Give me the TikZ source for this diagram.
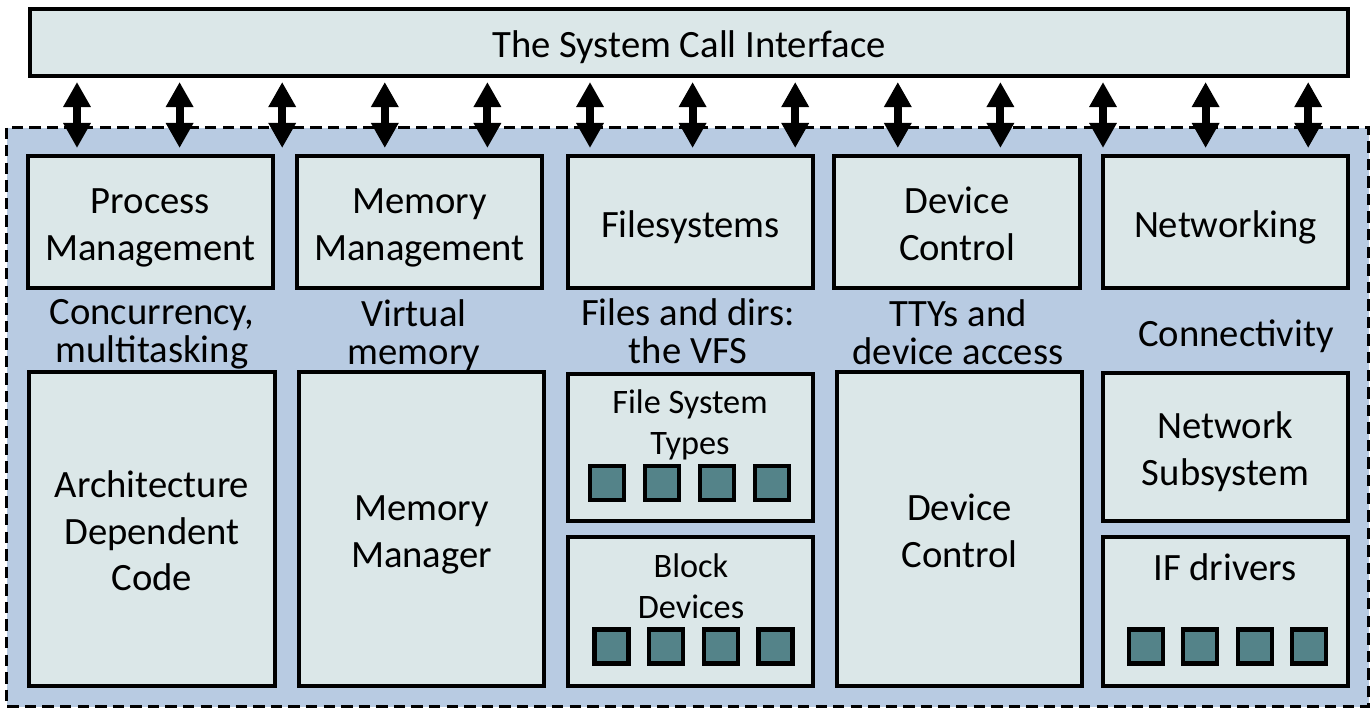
\documentclass[tikz,border=0pt]{standalone}
\usepackage{fontspec}
\setmainfont{Carlito}
\usetikzlibrary{arrows.meta, positioning}

\definecolor{kernelblue}{RGB}{184,203,226}
\definecolor{boxgrey}{RGB}{219,231,232}
\definecolor{slotteal}{RGB}{84,131,137}

\newcommand{\pxu}{0.02cm}
\newcommand{\bigtxt}{\fontsize{22}{26.5}\selectfont}
\newcommand{\smalltxt}{\fontsize{19.5}{23.5}\selectfont}
\newcommand{\lbltxt}{\fontsize{22}{21.5}\selectfont}
% strut for first and last line, keeps box texts at the same height
\newcommand{\fs}{\rule[-0.21em]{0pt}{1.2em}}

\tikzset{
  blk/.style 2 args={draw, line width=2.3pt, fill=boxgrey, minimum width=#1*\pxu,
    minimum height=#2*\pxu, inner sep=0pt, align=center, font=\bigtxt},
  slot/.style={draw, line width=2.3pt, fill=slotteal, minimum size=34*\pxu, inner sep=0pt},
  lbl/.style={align=center, font=\lbltxt},
  kernel/.style={fill=kernelblue, line width=1.7pt, dash pattern=on 6.5pt off 3.5pt},
  dblarr/.style={line width=4.5pt,
    {Triangle[length=0.5cm,width=0.52cm]}-{Triangle[length=0.5cm,width=0.52cm]}},
}

\begin{document}
\begin{tikzpicture}[x=\pxu, y=-\pxu]
  \useasboundingbox (0,0) rectangle (1372,710);

  % kernel area
  \draw[kernel] (6.5,127.5) rectangle (1368.5,706.5);

  \node[blk={1318}{67}] (sci) at (689,42.5) {\fs The System Call Interface};

  % subsystems
  \node[blk={245}{132}] (pm)  at (150.5,222) {\fs Process\\Management\fs};
  \node[blk={245}{132}] (mm)  at (419.5,222) {\fs Memory\\Management\fs};
  \node[blk={245}{132}] (fs)  at (690.5,222) {\fs Filesystems};
  \node[blk={246}{132}] (dc)  at (957,222)   {\fs Device\\Control\fs};
  \node[blk={245}{132}] (net) at (1225.5,222) {\fs Networking};

  \node[lbl] (lblpm)  at (152,334)  {Concurrency,\\multitasking};
  \node[lbl] (lblmm)  at (414,335)  {Virtual\\memory};
  \node[lbl] (lblfs)  at (688,331)  {Files and dirs:\\the VFS};
  \node[lbl] (lbldc)  at (958,332)  {TTYs and\\device access};
  \node[lbl] (lblnet) at (1236,336) {Connectivity};

  % lower layer
  \node[blk={246}{314}] (arch) at (152,529)   {\fs Architecture\\Dependent\\Code\fs};
  \node[blk={245}{314}] (mgr)  at (421.5,529) {\fs Memory\\Manager\fs};
  \node[blk={245}{147}] (fst)  at (690.5,447.5) {};
  \node[blk={245}{149}] (bdev) at (690.5,611.5) {};
  \node[blk={245}{314}] (dcl)  at (959.5,529) {\fs Device\\Control\fs};
  \node[blk={245}{148}] (nsub) at (1225.5,447) {\fs Network\\Subsystem\fs};
  \node[blk={245}{149}] (ifd)  at (1225.5,611.5) {};

  \node[align=center, font=\smalltxt] (fsttxt)  at (690,425)  {File System\\Types};
  \node[align=center, font=\smalltxt] (bdevtxt) at (691,586.5) {Block\\Devices};
  \node[font=\bigtxt] (ifdtxt) at (1225,567) {IF drivers};

  \foreach \sx [count=\i] in {607,662,717,772}
    \node[slot] (fsq\i) at (\sx,483) {};
  \foreach \sx [count=\i] in {611.5,666,721,775.5}
    \node[slot] (bsq\i) at (\sx,646.5) {};
  \foreach \sx [count=\i] in {1146,1200,1255,1309}
    \node[slot] (isq\i) at (\sx,646.5) {};

  % calls into the kernel
  \foreach \ax in {77,179.6,282.2,384.8,487.4,590,692.6,795.2,897.8,1000.4,1103,1205.6,1308.2}
    \draw[dblarr, shorten <=0.08cm, shorten >=0.12cm] (sci.south -| \ax,0) -- (pm.north -| \ax,0);
\end{tikzpicture}
\end{document}
